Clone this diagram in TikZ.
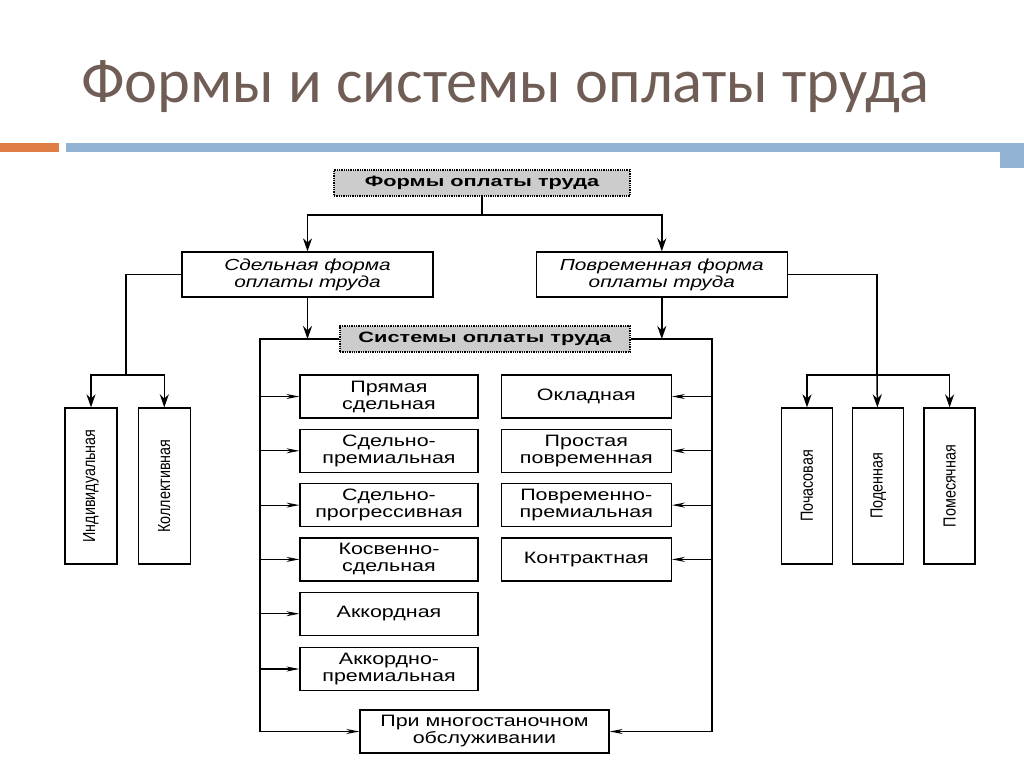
\documentclass[tikz,border=0pt]{standalone}
\usepackage{fontspec}
\setmainfont{Liberation Sans}
\newfontfamily\titlefont{Carlito}
\newfontfamily\boxfont[FakeStretch=1.3]{Liberation Sans}
\newfontfamily\headfont[FakeStretch=1.45]{Liberation Sans}
\newfontfamily\narrowfont[FakeStretch=0.82]{Liberation Sans}
\usetikzlibrary{arrows.meta,positioning}
\definecolor{titlegray}{RGB}{112,94,86}
\definecolor{barorange}{RGB}{224,124,70}
\definecolor{barblue}{RGB}{147,179,213}

\begin{document}
\begin{tikzpicture}[x=1pt, y=-1pt, node distance=10pt]
        \tikzstyle{box}=[draw, rectangle, line width=1.3pt, inner sep=0pt, align=center, font=\boxfont\fontsize{16.5}{17}\selectfont]
        \tikzstyle{head}=[box, fill=black!20, densely dotted, font=\headfont\bfseries\fontsize{15}{16}\selectfont, minimum height=26pt]
        \tikzstyle{form}=[box, font=\boxfont\itshape\fontsize{16}{17}\selectfont, minimum width=251pt, minimum height=45pt]
        \tikzstyle{sys}=[box, minimum height=43pt]
        \tikzstyle{vbox}=[box, font=\narrowfont\fontsize{17.5}{19}\selectfont, minimum width=52pt, minimum height=156pt]
        \tikzstyle{arr}=[line width=1.5pt, -{Stealth[length=13pt,width=9pt]}]
        \tikzstyle{sarr}=[line width=1.1pt, -{Stealth[length=13pt,width=5pt]}]

        \useasboundingbox (0,0) rectangle (1024,768);

        \node[anchor=base west, inner sep=0pt, text=titlegray, font=\titlefont\fontsize{62.5}{68}\selectfont] (title) at (81,102) {Формы и системы оплаты труда};
        \fill[barorange] (0,143) rectangle (59,152);
        \fill[barblue] (66,143) rectangle (1024,152);
        \fill[barblue] (1000,152) rectangle (1024,168);

        \node[head, minimum width=296pt] (forms) at (482,183) {Формы оплаты труда};
        \node[form] (piece) at (307.5,274.5) {Сдельная форма\\оплаты труда};
        \node[form] (time) [right=102pt of piece] {Повременная форма\\оплаты труда};
        \node[head, minimum width=290pt] (sys) at (485,339) {Системы оплаты труда};

        \node[sys, minimum width=178pt] (p1) at (389,396.5) {Прямая\\сдельная};
        \node[sys, minimum width=178pt] (p2) [below=of p1] {Сдельно-\\премиальная};
        \node[sys, minimum width=178pt] (p3) [below=of p2] {Сдельно-\\прогрессивная};
        \node[sys, minimum width=178pt] (p4) [below=of p3] {Косвенно-\\сдельная};
        \node[sys, minimum width=178pt] (p5) [below=of p4] {Аккордная};
        \node[sys, minimum width=178pt] (p6) [below=11pt of p5] {Аккордно-\\премиальная};

        \node[sys, minimum width=170pt] (t1) [right=22pt of p1] {Окладная};
        \node[sys, minimum width=170pt] (t2) [below=of t1] {Простая\\повременная};
        \node[sys, minimum width=170pt] (t3) [below=of t2] {Повременно-\\премиальная};
        \node[sys, minimum width=170pt] (t4) [below=of t3] {Контрактная};

        \node[sys, minimum width=249pt] (multi) at (484.5,731.5) {При многостаночном\\обслуживании};

        \node[vbox] (ind) at (91,486) {\rotatebox{90}{Индивидуальная}};
        \node[vbox] (coll) [right=20pt of ind] {\rotatebox{90}{Коллективная}};
        \node[vbox, minimum width=51pt] (hour) at (807,486) {\rotatebox{90}{Почасовая}};
        \node[vbox, minimum width=51pt] (day) [right=19pt of hour] {\rotatebox{90}{Поденная}};
        \node[vbox, minimum width=51pt] (month) [right=19pt of day] {\rotatebox{90}{Помесячная}};

        \coordinate (split) at (482,215);
        \coordinate (lsplit) at (126,375);
        \coordinate (rsplit) at (877,375);
        \coordinate (fl) at (260,339);
        \coordinate (fr) at (712,339);

        \draw[line width=1.5pt] (forms) -- (split);
        \draw[arr] (split) -| (piece);
        \draw[arr] (split) -| (time);

        \draw[arr] (piece.south) -- (piece.south |- sys.west);
        \draw[arr] (time.south) -- (time.south |- sys.east);

        \draw[line width=1.5pt] (piece.west) -| (lsplit);
        \draw[arr] (lsplit) -| (ind);
        \draw[arr] (lsplit) -| (coll);
        \draw[line width=1.5pt] (time.east) -| (rsplit);
        \draw[arr] (rsplit) -| (hour);
        \draw[arr] (rsplit) -- (day);
        \draw[arr] (rsplit) -| (month);

        \draw[sarr, line width=1.5pt] (sys.west) -- (fl) |- (multi.west);
        \draw[sarr, line width=1.5pt] (sys.east) -- (fr) |- (multi.east);

        \draw[sarr] (fl |- p1.west) -- (p1.west);
        \draw[sarr] (fl |- p2.west) -- (p2.west);
        \draw[sarr] (fl |- p3.west) -- (p3.west);
        \draw[sarr] (fl |- p4.west) -- (p4.west);
        \draw[sarr] (fl |- p5.west) -- (p5.west);
        \draw[sarr] (fl |- p6.west) -- (p6.west);

        \draw[sarr] (fr |- t1.east) -- (t1.east);
        \draw[sarr] (fr |- t2.east) -- (t2.east);
        \draw[sarr] (fr |- t3.east) -- (t3.east);
        \draw[sarr] (fr |- t4.east) -- (t4.east);
\end{tikzpicture}
\end{document}
